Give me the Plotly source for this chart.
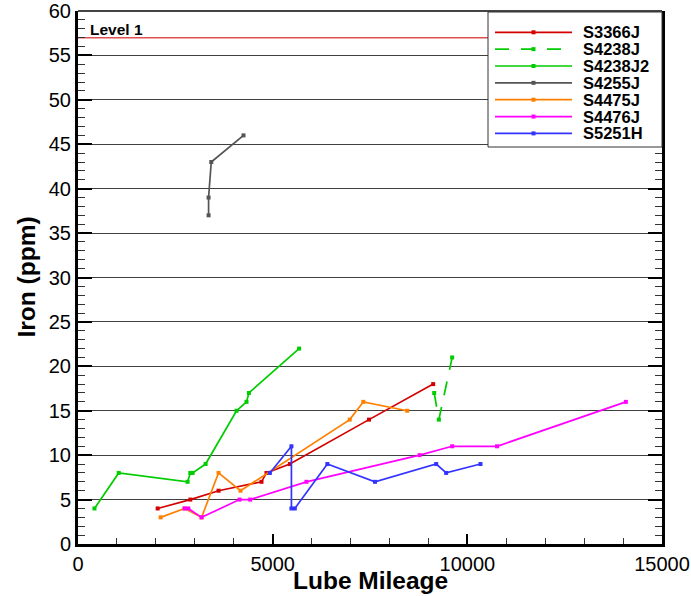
import plotly.graph_objects as go

# ---- data ----
s3366j_x = [2046, 2885, 3610, 4713, 4841, 5441, 7474, 9123]
s3366j_y = [4, 5, 6, 7, 8, 9, 14, 18]

s4238j_x = [9149, 9269, 9610]
s4238j_y = [17, 14, 21]

s4238j2_x = [423, 1046, 2815, 2885, 2944, 3277, 4072, 4328, 4390, 5679]
s4238j2_y = [4, 8, 7, 8, 8, 9, 15, 16, 17, 22]

s4255j_x = [3354, 3354, 3423, 4251]
s4255j_y = [37, 39, 43, 46]

s4475j_x = [2123, 2738, 3174, 3610, 4174, 6979, 7328, 8456]
s4475j_y = [3, 4, 3, 8, 6, 14, 16, 15]

s4476j_x = [2738, 2833, 3174, 4149, 4423, 5867, 8774, 9610, 10764, 14072]
s4476j_y = [4, 4, 3, 5, 5, 7, 10, 11, 11, 16]

s5251h_x = [4928, 5482, 5482, 5569, 6405, 7628, 9200, 9456, 10338]
s5251h_y = [8, 11, 4, 4, 9, 7, 9, 8, 9]

level1_value = 57
level1_label = "Level 1"

x_ticks = [0, 5000, 10000, 15000]
x_ticklabels = ["0", "5000", "10000", "15000"]

series = [
    ("S3366J", s3366j_x, s3366j_y, "#d40000", "solid"),
    ("S4238J", s4238j_x, s4238j_y, "#00cc00", "14px,12px"),
    ("S4238J2", s4238j2_x, s4238j2_y, "#00cc00", "solid"),
    ("S4255J", s4255j_x, s4255j_y, "#555555", "solid"),
    ("S4475J", s4475j_x, s4475j_y, "#ff8000", "solid"),
    ("S4476J", s4476j_x, s4476j_y, "#ff00ff", "solid"),
    ("S5251H", s5251h_x, s5251h_y, "#3333ff", "solid"),
]

# ---- layout constants (window pixels) ----
W, H = 691, 596
P_LEFT, P_RIGHT, P_TOP, P_BOTTOM = 78, 662, 11, 544
ML, MT = P_LEFT, P_TOP
MR = W - P_RIGHT
MB = H - P_BOTTOM
PW = P_RIGHT - P_LEFT
PH = P_BOTTOM - P_TOP


def px_x(p):
    return (p - P_LEFT) / PW


def px_y(p):
    return (P_BOTTOM - p) / PH


fig = go.Figure()
for name, xs, ys, col, dash in series:
    fig.add_trace(go.Scatter(
        x=xs, y=ys, name=name, mode="lines+markers", showlegend=False,
        line=dict(color=col, width=1.7, dash=dash),
        marker=dict(symbol="square", size=4, color=col),
    ))

# Level 1 line
fig.add_shape(type="line", xref="paper", yref="y", x0=0, x1=1,
              y0=level1_value, y1=level1_value,
              line=dict(color="#e05050", width=1.5), layer="below")
fig.add_annotation(text="<b>" + level1_label + "</b>", xref="paper", yref="y",
                   x=px_x(88), y=level1_value, xanchor="left", yanchor="bottom",
                   showarrow=False, yshift=-2,
                   font=dict(family="Arial", size=15.5, color="black"))

# top border
fig.add_shape(type="line", xref="paper", yref="paper", x0=0, x1=1, y0=1, y1=1,
              line=dict(color="#444444", width=2))

# ---- manual legend ----
leg_left, leg_top, leg_bottom = 488, 12, 147
fig.add_shape(type="rect", xref="paper", yref="paper",
              x0=px_x(leg_left), x1=1, y0=px_y(leg_bottom), y1=px_y(leg_top),
              line=dict(color="#333333", width=1), fillcolor="white")
row0, row_step = 32.3, 16.85
for i, (name, xs, ys, col, dash) in enumerate(series):
    yy = px_y(row0 + i * row_step)
    fig.add_shape(type="line", xref="paper", yref="paper",
                  x0=px_x(495), x1=px_x(572), y0=yy, y1=yy,
                  line=dict(color=col, width=1.7, dash=dash))
    fig.add_shape(type="rect", xref="paper", yref="paper",
                  xsizemode="pixel", ysizemode="pixel",
                  xanchor=px_x(533.5), yanchor=yy,
                  x0=-2, x1=2, y0=-2, y1=2,
                  line=dict(width=0), fillcolor=col)
    fig.add_annotation(text="<b>" + name + "</b>", xref="paper", yref="paper",
                       x=px_x(582), y=yy, xanchor="left", yanchor="middle",
                       showarrow=False, yshift=0, borderpad=0,
                       font=dict(family="Arial", size=16.5, color="black"))

# axis titles as annotations
fig.add_annotation(text="<b>Lube Mileage</b>", xref="paper", yref="paper",
                   x=0.5, y=px_y(580), xanchor="center", yanchor="middle",
                   showarrow=False, font=dict(family="Arial", size=24.5, color="black"))
fig.add_annotation(text="<b>Iron (ppm)</b>", xref="paper", yref="paper",
                   x=px_x(26), y=0.5, xanchor="center", yanchor="middle",
                   textangle=-90, showarrow=False,
                   font=dict(family="Arial", size=24.5, color="black"))

fig.update_layout(
    width=W, height=H,
    margin=dict(l=ML, r=MR, t=MT, b=MB),
    plot_bgcolor="white", paper_bgcolor="white",
    font=dict(family="Arial", color="black"),
    showlegend=False,
    xaxis=dict(
        range=[0, 15000], tickvals=x_ticks, ticktext=x_ticklabels,
        showgrid=False, zeroline=False, automargin=False,
        showline=True, linecolor="black", linewidth=3, mirror=False,
        ticks="inside", ticklen=10, tickwidth=2, tickcolor="black",
        minor=dict(dtick=1000, ticks="inside", ticklen=6, tickwidth=1, tickcolor="#333"),
        tickfont=dict(size=20), ticklabeloverflow="allow",
    ),
    yaxis=dict(
        range=[0, 60], dtick=5,
        showgrid=True, gridcolor="#404040", gridwidth=1,
        zeroline=False, automargin=False,
        showline=True, linecolor="black", linewidth=3, mirror="ticks",
        ticks="inside", ticklen=14, tickwidth=2, tickcolor="black",
        minor=dict(dtick=1, ticks="inside", ticklen=7, tickwidth=1, tickcolor="#333", showgrid=False),
        tickfont=dict(size=20), ticklabeloverflow="allow",
    ),
)

fig.write_html("out.html", config={"displayModeBar": False},
               post_script="document.body.style.margin='0';document.body.style.padding='0';")
